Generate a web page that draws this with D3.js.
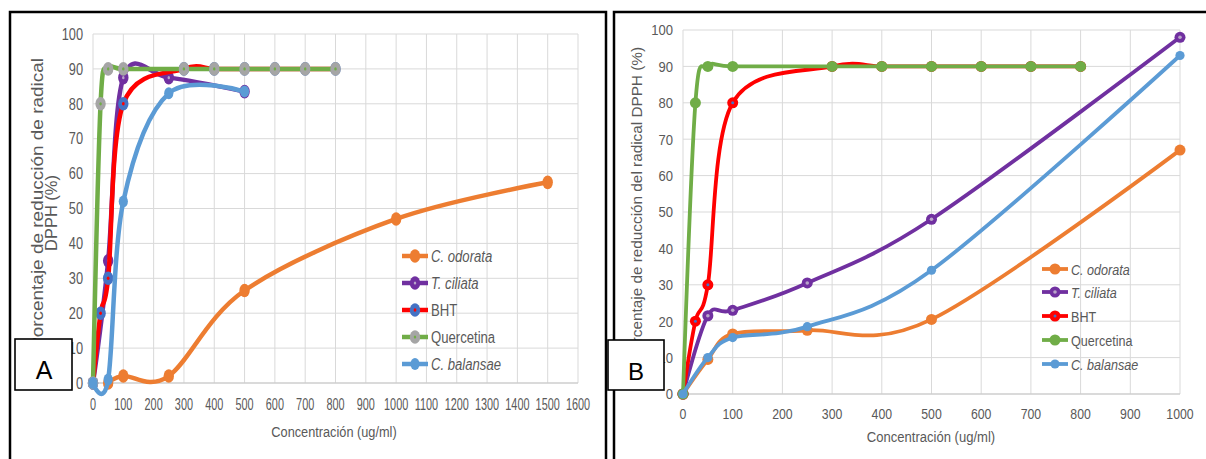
<!DOCTYPE html>
<html>
<head>
<meta charset="utf-8">
<script src="https://cdn.jsdelivr.net/npm/d3@7/dist/d3.min.js"></script>
<style>
  html, body { margin: 0; padding: 0; background: #fff; }
  svg { display: block; font-family: "Liberation Sans", Arial, sans-serif; }
</style>
</head>
<body>
<svg id="chart" width="1206" height="459"></svg>
<script>
// Series names (legend order = drawing order)
const seriesNames = ["C. odorata", "T. ciliata", "BHT", "Quercetina", "C. balansae"];
const seriesItalic = [true, true, false, false, true];

// Panel A: concentration (ug/ml) and % DPPH reduction
const aOdorataX = [50, 100, 250, 500, 1000, 1500];
const aOdorataY = [0, 2, 2, 26.5, 47, 57.5];
const aCiliataX = [0, 50, 100, 250, 500];
const aCiliataY = [0, 35, 87.5, 87.5, 83.5];
const aBhtX = [0, 25, 50, 100, 300, 400, 500, 600, 700, 800];
const aBhtY = [0, 20, 30, 80, 90, 90, 90, 90, 90, 90];
const aQuercX = [0, 25, 50, 100, 300, 400, 500, 600, 700, 800];
const aQuercY = [0, 80, 90, 90, 90, 90, 90, 90, 90, 90];
const aBalansaeX = [0, 50, 100, 250, 500];
const aBalansaeY = [0, 1, 52, 83, 83.5];

// Panel B
const bOdorataX = [0, 50, 100, 250, 500, 1000];
const bOdorataY = [0, 9.5, 16.5, 17.5, 20.5, 67];
const bCiliataX = [0, 50, 100, 250, 500, 1000];
const bCiliataY = [0, 21.5, 23, 30.5, 48, 98];
const bBhtX = [0, 25, 50, 100, 300, 400, 500, 600, 700, 800];
const bBhtY = [0, 20, 30, 80, 90, 90, 90, 90, 90, 90];
const bQuercX = [0, 25, 50, 100, 300, 400, 500, 600, 700, 800];
const bQuercY = [0, 80, 90, 90, 90, 90, 90, 90, 90, 90];
const bBalansaeX = [0, 50, 100, 250, 500, 1000];
const bBalansaeY = [0, 10, 15.5, 18.5, 34, 93];

// Tick labels
const xTicksA = [0, 100, 200, 300, 400, 500, 600, 700, 800, 900, 1000, 1100, 1200, 1300, 1400, 1500, 1600];
const xTicksB = [0, 100, 200, 300, 400, 500, 600, 700, 800, 900, 1000];
const yTicks = [0, 10, 20, 30, 40, 50, 60, 70, 80, 90, 100];

const xTitle = "Concentración (ug/ml)";
const yTitleA = ["Porcentaje de reducción de radical", "DPPH (%)"];
const yTitleB = "Porcentaje de reducción del radical DPPH (%)";

const C = {
  orange: "#ED7D31", purple: "#7030A0", red: "#FF0000", green: "#70AD47",
  lblue: "#5B9BD5", grey: "#A5A5A5", blue: "#4472C4", text: "#595959",
  grid: "#D9D9D9"
};

const svg = d3.select("#chart");
const zip = (xs, ys) => xs.map((x, i) => [x, ys[i]]);

// Marker drawing helpers, per style
function marker(g, cx, cy, style, rx, ry) {
  const s = style;
  g.append("ellipse").attr("cx", cx).attr("cy", cy).attr("rx", rx).attr("ry", ry)
    .attr("fill", s.fill).attr("stroke", s.stroke || "none").attr("stroke-width", s.sw || 0);
  if (s.dot) {
    g.append("ellipse").attr("cx", cx).attr("cy", cy).attr("rx", s.dotR * rx / ry).attr("ry", s.dotR)
      .attr("fill", s.dot);
  }
}

function panel(cfg) {
  const g = svg.append("g");
  const x = d3.scaleLinear().domain(cfg.xDomain).range(cfg.xRange);
  const y = d3.scaleLinear().domain([0, 100]).range(cfg.yRange);

  // grid
  g.append("g").selectAll("line").data(cfg.xTicks).join("line")
    .attr("x1", d => x(d)).attr("x2", d => x(d))
    .attr("y1", y(0)).attr("y2", y(100))
    .attr("stroke", C.grid).attr("stroke-width", 1);
  g.append("g").selectAll("line").data(yTicks).join("line")
    .attr("x1", x(cfg.xDomain[0])).attr("x2", x(cfg.xDomain[1]))
    .attr("y1", d => y(d)).attr("y2", d => y(d))
    .attr("stroke", C.grid).attr("stroke-width", 1);
  g.append("line").attr("x1", x(cfg.xDomain[0])).attr("x2", x(cfg.xDomain[1]))
    .attr("y1", y(0)).attr("y2", y(0)).attr("stroke", "#C8C8C8").attr("stroke-width", 1.2);

  // tick labels
  g.append("g").selectAll("text").data(yTicks).join("text")
    .attr("transform", d => `translate(${cfg.yLabelRight},${y(d)}) scale(${cfg.yLabelSx},1)`)
    .attr("dy", "0.36em").attr("text-anchor", "end")
    .attr("font-size", cfg.tickFont).attr("fill", C.text).text(d => d);
  g.append("g").selectAll("text").data(cfg.xTicks).join("text")
    .attr("transform", d => `translate(${x(d)},${cfg.xLabelBase}) scale(${cfg.xLabelSx},1)`)
    .attr("text-anchor", "middle")
    .attr("font-size", cfg.tickFont).attr("fill", C.text).text(d => d);

  // axis titles
  g.append("text")
    .attr("transform", `translate(${cfg.xTitlePos[0]},${cfg.xTitlePos[1]}) scale(${cfg.xTitleSx},1)`)
    .attr("text-anchor", "middle").attr("font-size", cfg.xTitleFont).attr("fill", C.text).text(xTitle);
  cfg.yTitles.forEach(t => {
    const el = g.append("text")
      .attr("transform", `translate(${t.x},${t.y}) rotate(-90)`)
      .attr("text-anchor", "middle").attr("font-size", t.font).attr("fill", C.text).text(t.text);
    if (t.len) el.attr("textLength", t.len).attr("lengthAdjust", "spacingAndGlyphs");
  });

  // series (smoothed lines, uniform Catmull-Rom)
  const line = d3.line().x(d => x(d[0])).y(d => y(d[1])).curve(d3.curveCatmullRom.alpha(0));
  const sg = g.append("g");
  cfg.series.forEach(s => {
    sg.append("path").attr("d", line(s.data)).attr("fill", "none")
      .attr("stroke", s.color).attr("stroke-width", cfg.lineW)
      .attr("stroke-linejoin", "round").attr("stroke-linecap", "round");
    s.data.forEach(d => marker(sg, x(d[0]), y(d[1]), s.mk, s.rx, s.ry));
  });

  // legend
  const lg = g.append("g");
  cfg.series.forEach((s, i) => {
    const ly = cfg.legendY[i];
    lg.append("line").attr("x1", cfg.legendX).attr("x2", cfg.legendX + 26)
      .attr("y1", ly).attr("y2", ly).attr("stroke", s.color).attr("stroke-width", cfg.lineW);
    marker(lg, cfg.legendX + 13, ly, s.mk, s.rx, s.ry);
    lg.append("text")
      .attr("transform", `translate(${cfg.legendX + 29},${ly + 5.5}) scale(${cfg.legendSx},1)`)
      .attr("font-size", cfg.legendFont).attr("fill", C.text)
      .attr("font-style", seriesItalic[i] ? "italic" : "normal")
      .text(seriesNames[i]);
  });
  return g;
}

// Panel A
panel({
  xDomain: [0, 1600], xRange: [93, 578], yRange: [383, 34], xTicks: xTicksA,
  tickFont: 16, yLabelRight: 83, yLabelSx: 0.8, xLabelBase: 410, xLabelSx: 0.68,
  xTitlePos: [334, 437], xTitleSx: 0.85, xTitleFont: 15,
  yTitles: [
    { text: yTitleA[0], x: 43, y: 204, font: 17, len: 292 },
    { text: yTitleA[1], x: 57, y: 213, font: 17, len: 76 }
  ],
  lineW: 4.5,
  legendX: 402, legendY: [256, 283, 310, 337, 364], legendSx: 0.82, legendFont: 16,
  series: [
    { data: zip(aOdorataX, aOdorataY), color: C.orange, mk: { fill: C.orange }, rx: 5.2, ry: 6.8 },
    { data: zip(aCiliataX, aCiliataY), color: C.purple, mk: { fill: C.purple, dot: "#B9A5C9", dotR: 1.6 }, rx: 5.2, ry: 6.8 },
    { data: zip(aBhtX, aBhtY), color: C.red, mk: { fill: C.blue, dot: C.red, dotR: 1.8 }, rx: 5.2, ry: 6.8 },
    { data: zip(aQuercX, aQuercY), color: C.green, mk: { fill: C.grey, dot: C.green, dotR: 1.6 }, rx: 5.2, ry: 6.8 },
    { data: zip(aBalansaeX, aBalansaeY), color: C.lblue, mk: { fill: C.lblue }, rx: 4.6, ry: 6 }
  ]
});

// Panel B
panel({
  xDomain: [0, 1000], xRange: [683, 1180], yRange: [394, 30], xTicks: xTicksB,
  tickFont: 15, yLabelRight: 673, yLabelSx: 0.87, xLabelBase: 419, xLabelSx: 0.82,
  xTitlePos: [931, 442], xTitleSx: 0.87, xTitleFont: 15,
  yTitles: [
    { text: yTitleB, x: 642, y: 204, font: 15.3, len: 314 }
  ],
  lineW: 3.8,
  legendX: 1042, legendY: [269, 292, 316, 340, 364], legendSx: 0.84, legendFont: 15,
  series: [
    { data: zip(bOdorataX, bOdorataY), color: C.orange, mk: { fill: C.orange }, rx: 5.5, ry: 5.5 },
    { data: zip(bCiliataX, bCiliataY), color: C.purple, mk: { fill: C.purple, dot: "#B9A5C9", dotR: 1.8 }, rx: 5.5, ry: 5.5 },
    { data: zip(bBhtX, bBhtY), color: C.red, mk: { fill: C.red, dot: C.blue, dotR: 1.5 }, rx: 5.5, ry: 5.5 },
    { data: zip(bQuercX, bQuercY), color: C.green, mk: { fill: C.green }, rx: 5.5, ry: 5.5 },
    { data: zip(bBalansaeX, bBalansaeY), color: C.lblue, mk: { fill: C.lblue }, rx: 4.6, ry: 4.6 }
  ]
});

// Frames around each panel
svg.append("path").attr("d", "M10,470 V12 H606 V470")
  .attr("fill", "none").attr("stroke", "#000").attr("stroke-width", 2.5);
svg.append("path").attr("d", "M614,470 V12 H1212")
  .attr("fill", "none").attr("stroke", "#000").attr("stroke-width", 2.5);

// Panel letters
const letters = [
  { t: "A", x: 15, y: 339, w: 57, h: 51, cx: 44, base: 379, font: 25 },
  { t: "B", x: 608, y: 340, w: 56, h: 50, cx: 636, base: 380, font: 24 }
];
letters.forEach(l => {
  svg.append("rect").attr("x", l.x).attr("y", l.y).attr("width", l.w).attr("height", l.h)
    .attr("fill", "#fff").attr("stroke", "#000").attr("stroke-width", 1.6);
  svg.append("text").attr("x", l.cx).attr("y", l.base).attr("text-anchor", "middle")
    .attr("font-size", l.font).attr("fill", "#000").text(l.t);
});
</script>
</body>
</html>
